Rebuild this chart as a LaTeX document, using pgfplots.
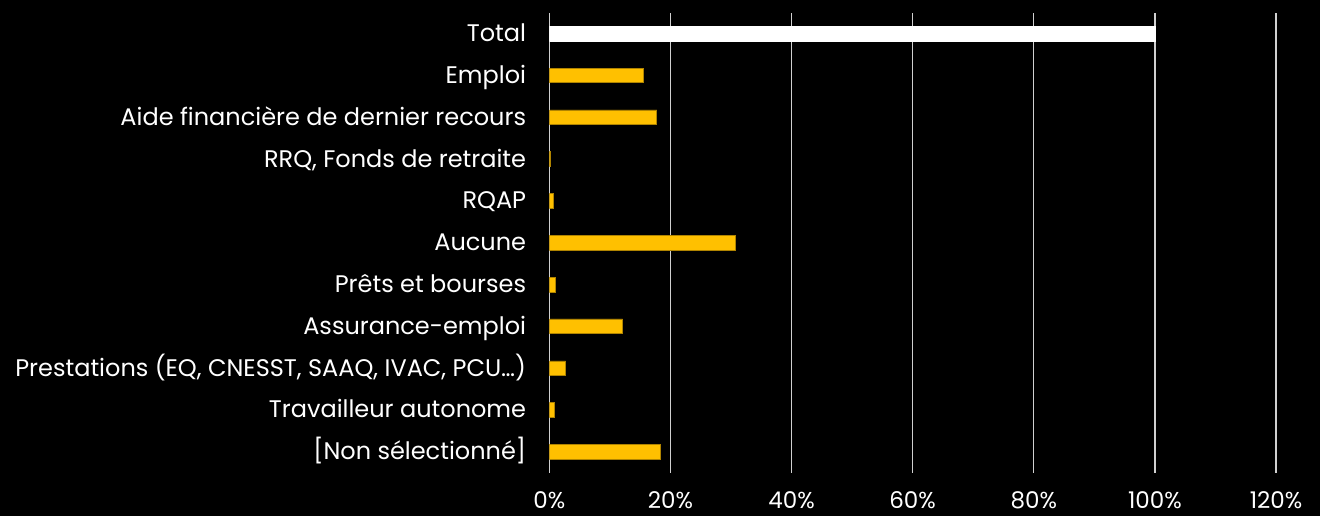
\documentclass[border=0pt]{standalone}
\usepackage{pgfplots}
\pgfplotsset{compat=1.18}
\usepackage{fontspec}
\setmainfont{Poppins}
\definecolor{gold}{HTML}{FFC000}
\definecolor{goldedge}{HTML}{B08400}
\definecolor{gridc}{HTML}{D0D0D0}
\begin{document}
\begin{tikzpicture}
\useasboundingbox (-549.3pt,-43.3pt) rectangle (770.7pt,472.7pt);
\fill[black] (-549.3pt,-43.3pt) rectangle (770.7pt,472.7pt);
\begin{axis}[
  scale only axis,
  width=726.7pt, height=460pt,
  at={(0pt,0pt)}, anchor=south west,
  xmin=0, xmax=120, ymin=-0.5, ymax=10.5,
  xbar, bar width=14.7pt, bar shift=0pt,
  axis line style={draw=none},
  xmajorgrids, grid style={gridc, line width=1.3pt},
  major tick length=0pt,
  xtick={0,20,...,120},
  xticklabels={0\%,20\%,40\%,60\%,80\%,100\%,120\%},
  ytick={0,...,10},
  yticklabels={{[Non sélectionné]},Travailleur autonome,{Prestations (EQ, CNESST, SAAQ, IVAC, PCU…)},Assurance-emploi,Prêts et bourses,Aucune,RQAP,{RRQ, Fonds de retraite},Aide financière de dernier recours,Emploi,Total},
  yticklabel style={font=\fontsize{24pt}{28pt}\selectfont, color=white, anchor=base east, inner sep=0pt, xshift=-23pt, yshift=-8pt},
  xticklabel style={font=\fontsize{23pt}{28pt}\selectfont, color=white, anchor=base, inner sep=0pt, text depth=0pt, yshift=-36pt},
]
\addplot[fill=white, draw=white] coordinates {(100,10)};
\addplot[fill=gold, draw=goldedge, line width=0.6pt] coordinates {
(15.6,9) (17.75,8) (0.15,7) (0.7,6) (30.7,5) (1.0,4) (12.1,3) (2.7,2) (0.9,1) (18.4,0)};
\end{axis}
\end{tikzpicture}
\end{document}
